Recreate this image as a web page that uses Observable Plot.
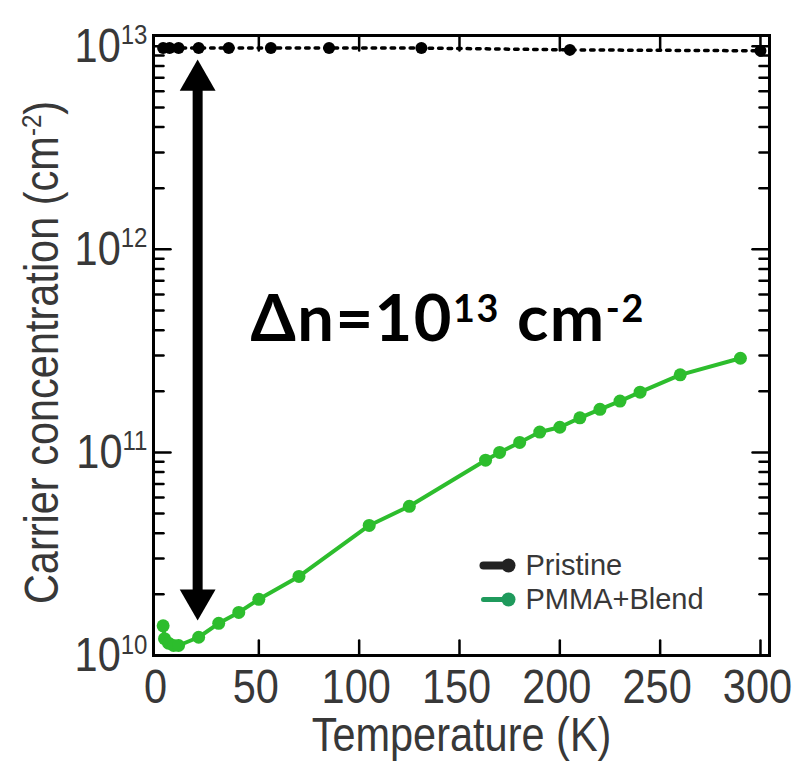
<!DOCTYPE html>
<html><head><meta charset="utf-8">
<script src="https://cdn.jsdelivr.net/npm/d3@7"></script>
<script src="https://cdn.jsdelivr.net/npm/@observablehq/plot@0.6"></script>
<style>body{margin:0;background:#fff;overflow:hidden}</style>
</head><body><div id="chart"></div>
<script>
// ---- data ----
const pristineT = [2.3, 5.5, 10, 20, 35, 56, 85, 131, 205, 300];
const pristineN = [9.8e12, 9.8e12, 9.8e12, 9.8e12, 9.8e12, 9.8e12, 9.8e12, 9.8e12, 9.6e12, 9.5e12];
const blendT = [2.3, 3, 5, 7.5, 10, 20, 30, 40, 50, 70, 105, 125, 163, 170, 180, 190, 200, 210, 220, 230, 240, 260, 290];
const blendN = [1.40e10, 1.21e10, 1.15e10, 1.12e10, 1.12e10, 1.23e10, 1.44e10, 1.63e10, 1.89e10, 2.45e10, 4.37e10, 5.43e10, 9.16e10, 1.0e11, 1.12e11, 1.26e11, 1.33e11, 1.48e11, 1.63e11, 1.79e11, 1.98e11, 2.41e11, 2.91e11];
const xTickValues = [0, 50, 100, 150, 200, 250, 300];
const xTickMarks = [50, 100, 150, 200, 250, 300];
const yMajor = [1e10, 1e11, 1e12, 1e13];
const yMinorFactors = [2, 3, 4, 5, 6, 7, 8, 9];
const legendLabels = ["Pristine", "PMMA+Blend"];
const legendColors = ["#222222", "#1f9a5c"];
const arrowT = 19.5, arrowTop = 6.8e12, arrowBottom = 1.88e10;
const noteText = "Δn=10^{13} cm^{-2}";
const noteT = 45.8, noteN = 3.53e11;
const xLabel = "Temperature (K)";
const yLabel = "Carrier concentration (cm^{-2})";

const pristine = pristineT.map((T, i) => ({T, n: pristineN[i]}));
const blend = blendT.map((T, i) => ({T, n: blendN[i]}));
const yMinor = yMajor.slice(0, 3).flatMap(d => yMinorFactors.map(f => d * f));
const heads = [{T: arrowT, n: arrowTop, rot: 0}, {T: arrowT, n: arrowBottom, rot: 180}];
const yTickText = d => "10^{" + Math.round(Math.log10(d)) + "}";

const green = "#2dbd2d";
const textGray = "#383838";
const STRETCH = 1.18;
const tickShape = {draw(ctx, l) { ctx.moveTo(0, 0); ctx.lineTo(0, -l); }};
const tick = (data, opts) => Plot.vector(data, {anchor: "start", shape: tickShape, stroke: "black", strokeWidth: 2.5, ...opts});

const marks = [
  Plot.line(pristine, {x: "T", y: "n", stroke: "black", strokeWidth: 3.5, strokeDasharray: "3.5 6"}),
  Plot.dot(pristine, {x: "T", y: "n", r: 6, fill: "black"}),
  Plot.line(blend, {x: "T", y: "n", stroke: green, strokeWidth: 4}),
  Plot.dot(blend, {x: "T", y: "n", r: 6.5, fill: green}),
  Plot.ruleX([arrowT], {x: d => d, y1: arrowTop, y2: arrowBottom, stroke: "black", strokeWidth: 10}),
  Plot.dot(heads, {x: "T", y: "n", symbol: "triangle", r: 13.3, rotate: "rot", fill: "black"}),
  Plot.text([noteText], {x: noteT, y: noteN, text: d => d, textAnchor: "start", lineAnchor: "bottom",
    fontSize: 65, fontWeight: 700, fontFamily: "Lato", fill: "black"}),
  tick(xTickMarks, {x: d => d, frameAnchor: "bottom", rotate: 0, length: 15}),
  tick(xTickMarks, {x: d => d, frameAnchor: "top", rotate: 180, length: 15}),
  tick(yMajor, {y: d => d, frameAnchor: "left", rotate: 90, length: 17}),
  tick(yMinor, {y: d => d, frameAnchor: "left", rotate: 90, length: 10}),
  tick(yMajor, {y: d => d, frameAnchor: "right", rotate: -90, length: 17}),
  tick(yMinor, {y: d => d, frameAnchor: "right", rotate: -90, length: 10}),
  Plot.frame({stroke: "black", strokeWidth: 3}),
  Plot.text(xTickValues, {x: d => d, frameAnchor: "bottom", dy: 32, dx: -3, text: d => String(d),
    fontSize: 41.5, fill: textGray, textAnchor: "middle", lineAnchor: "middle"}),
  Plot.text(yMajor, {y: d => d, frameAnchor: "left", dx: -6, text: yTickText,
    fontSize: 41.5, fill: textGray, textAnchor: "end", lineAnchor: "middle"}),
  Plot.text([xLabel], {frameAnchor: "bottom", dy: 80, text: d => d, fontSize: 41.5, fill: textGray,
    textAnchor: "middle", lineAnchor: "middle"}),
  Plot.text([yLabel], {frameAnchor: "left", dx: -111, dy: 7, rotate: -90, text: d => d, fontSize: 41.5,
    fill: textGray, textAnchor: "middle", lineAnchor: "middle"})
];
legendLabels.forEach((label, i) => {
  const dy = i === 0 ? -90 : -56;
  marks.push(
    tick([label], {frameAnchor: "bottom-right", dx: -286, dy, rotate: 90, length: 20,
      stroke: legendColors[i], strokeWidth: i === 0 ? 8 : 5}),
    Plot.dot([label], {frameAnchor: "bottom-right", dx: -261, dy, r: 7, fill: legendColors[i]}),
    Plot.text([label], {frameAnchor: "bottom-right", dx: -244, dy, text: d => d, textAnchor: "start",
      lineAnchor: "middle", fontSize: 29, fill: textGray})
  );
});

const svg = Plot.plot({
  width: 797, height: 763,
  marginLeft: 153, marginRight: 28, marginTop: 35, marginBottom: 108,
  style: {fontFamily: "'Liberation Sans', Arial, sans-serif", background: "white"},
  x: {domain: [-2.5, 304.5], axis: null},
  y: {type: "log", domain: [1e10, 1.13e13], axis: null},
  marks
});
document.getElementById("chart").append(svg);

const stretchSet = new Set([...xTickValues.map(String), ...yMajor.map(yTickText), xLabel, yLabel]);
const NS = "http://www.w3.org/2000/svg";
function applySup(el, shiftFrac, sizeFrac) {
  const s = el.textContent;
  if (!s.includes("^{")) return;
  const F = parseFloat(getComputedStyle(el).fontSize);
  const re = /\^\{([^}]*)\}/g;
  const parts = [];
  let last = 0, m;
  while ((m = re.exec(s))) { parts.push([s.slice(last, m.index), false]); parts.push([m[1], true]); last = re.lastIndex; }
  parts.push([s.slice(last), false]);
  el.textContent = "";
  let raised = false;
  for (const [str, sup] of parts) {
    if (!str) continue;
    const t = document.createElementNS(NS, "tspan");
    t.textContent = str;
    if (sup && !raised) { t.setAttribute("dy", -shiftFrac * F); raised = true; }
    else if (!sup && raised) { t.setAttribute("dy", shiftFrac * F); raised = false; }
    if (sup) t.setAttribute("font-size", sizeFrac * F);
    el.appendChild(t);
  }
}
const num = v => v != null && /^-?[\d.]+$/.test(v);
svg.querySelectorAll("text").forEach(el => {
  const s = el.textContent;
  const stretch = stretchSet.has(s);
  if (s === noteText) { applySup(el, 0.30, 0.58); el.setAttribute("letter-spacing", "1.5"); }
  else applySup(el, 0.36, 0.58);
  if (stretch) {
    let tr = el.getAttribute("transform") || "";
    const x = el.getAttribute("x"), y = el.getAttribute("y");
    if (num(x) || num(y)) {
      tr += ` translate(${num(x) ? x : 0},${num(y) ? y : 0})`;
      if (num(x)) el.removeAttribute("x");
      if (num(y)) el.removeAttribute("y");
    }
    el.setAttribute("transform", tr + ` scale(1,${STRETCH})`);
  }
});
</script>
</body></html>
